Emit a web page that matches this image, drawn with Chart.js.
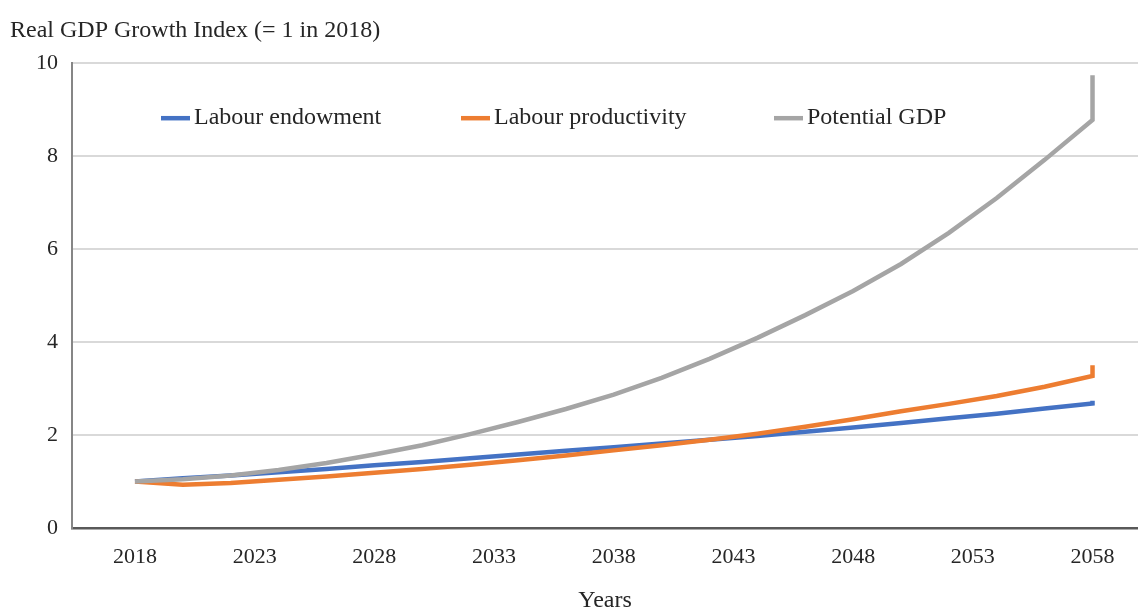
<!DOCTYPE html>
<html>
<head>
<meta charset="utf-8">
<title>Real GDP Growth Index</title>
<script src="https://cdn.jsdelivr.net/npm/chart.js@4.4.1/dist/chart.umd.min.js"></script>
<style>
  html, body { margin: 0; padding: 0; background: #ffffff; }
  #wrap { width: 1138px; height: 610px; position: relative; }
</style>
</head>
<body>
<div id="wrap"><canvas id="gdpChart"></canvas></div>
<script>
// Years of the projection (the final year appears twice: the series end with a step)
const years = [2018, 2020, 2022, 2024, 2026, 2028, 2030, 2032, 2034, 2036, 2038,
               2040, 2042, 2044, 2046, 2048, 2050, 2052, 2054, 2056, 2058, 2058];

// Index values, 2018 = 1
const labourEndowment = [1.00, 1.07, 1.13, 1.20, 1.27, 1.35, 1.42, 1.50, 1.58, 1.66, 1.74,
                         1.82, 1.90, 1.98, 2.07, 2.16, 2.26, 2.36, 2.46, 2.57, 2.68, 2.74];
const labourProductivity = [1.00, 0.93, 0.97, 1.04, 1.11, 1.19, 1.27, 1.36, 1.46, 1.56, 1.67,
                            1.78, 1.90, 2.03, 2.18, 2.34, 2.51, 2.67, 2.84, 3.04, 3.27, 3.50];
const potentialGDP = [1.00, 1.05, 1.13, 1.25, 1.40, 1.58, 1.78, 2.02, 2.28, 2.56, 2.87,
                      3.23, 3.64, 4.09, 4.58, 5.10, 5.68, 6.35, 7.10, 7.92, 8.78, 9.74];

const seriesNames = ['Labour endowment', 'Labour productivity', 'Potential GDP'];
const seriesColors = ['#4472C4', '#ED7D31', '#A5A5A5'];

const xTickYears = [2018, 2023, 2028, 2033, 2038, 2043, 2048, 2053, 2058];
const yTickValues = [0, 2, 4, 6, 8, 10];

const chartTitle = 'Real GDP Growth Index (= 1 in 2018)';
const xAxisTitle = 'Years';

const serif = '"Liberation Serif", "Times New Roman", serif';
const textColor = '#262626';

function toPoints(values) {
  return values.map((v, i) => ({ x: years[i], y: v }));
}

// Legend drawn inside the plot, on one row near the top
const insideLegend = {
  id: 'insideLegend',
  afterDraw(chart) {
    const { ctx, chartArea } = chart;
    const y = chartArea.top + 55;
    const offsets = [89, 389, 702];
    ctx.save();
    ctx.font = '24px ' + serif;
    ctx.textBaseline = 'middle';
    ctx.textAlign = 'left';
    chart.data.datasets.forEach((ds, i) => {
      const x0 = chartArea.left + offsets[i];
      ctx.strokeStyle = ds.borderColor;
      ctx.lineWidth = 4.5;
      ctx.lineCap = 'butt';
      ctx.beginPath();
      ctx.moveTo(x0, y);
      ctx.lineTo(x0 + 29, y);
      ctx.stroke();
      ctx.fillStyle = textColor;
      ctx.fillText(ds.label, x0 + 33, y);
    });
    ctx.restore();
  }
};

// Later series are painted over earlier ones
const datasets = [labourEndowment, labourProductivity, potentialGDP].map((vals, i) => ({
  label: seriesNames[i],
  data: toPoints(vals),
  borderColor: seriesColors[i],
  backgroundColor: seriesColors[i],
  borderWidth: 4.5,
  pointRadius: 0,
  tension: 0,
  fill: false,
  order: 3 - i
}));

new Chart(document.getElementById('gdpChart'), {
  type: 'line',
  data: { datasets },
  plugins: [insideLegend],
  options: {
    responsive: true,
    maintainAspectRatio: false,
    animation: false,
    layout: { padding: { left: 10, right: 0, top: 16, bottom: 0 } },
    plugins: {
      legend: { display: false },
      tooltip: { enabled: false },
      title: {
        display: true,
        text: chartTitle,
        align: 'start',
        color: textColor,
        font: { family: serif, size: 24, weight: 'normal', lineHeight: 1.2 },
        padding: { top: 0, bottom: 18.4 }
      }
    },
    scales: {
      x: {
        type: 'linear',
        min: 2015.37,
        max: 2059.9,
        afterBuildTicks(scale) {
          scale.ticks = xTickYears.map(v => ({ value: v }));
        },
        ticks: {
          color: textColor,
          font: { family: serif, size: 22, lineHeight: 1.2 },
          padding: 15.8,
          maxRotation: 0,
          autoSkip: false,
          callback: v => String(v)
        },
        grid: { display: false, drawTicks: false },
        border: { display: true, color: '#595959', width: 2.5 },
        title: {
          display: true,
          text: xAxisTitle,
          color: textColor,
          font: { family: serif, size: 24, lineHeight: 0.8 },
          padding: { top: 4.8, bottom: 0 }
        }
      },
      y: {
        min: 0,
        max: 10,
        afterBuildTicks(scale) {
          scale.ticks = yTickValues.map(v => ({ value: v }));
        },
        afterFit(scale) {
          scale.width = 62;
        },
        ticks: {
          color: textColor,
          font: { family: serif, size: 22, lineHeight: 1.2 },
          padding: 14
        },
        grid: { color: '#d9d9d9', lineWidth: 2, drawTicks: false },
        border: { display: true, color: '#868686', width: 2 }
      }
    }
  }
});
</script>
</body>
</html>
